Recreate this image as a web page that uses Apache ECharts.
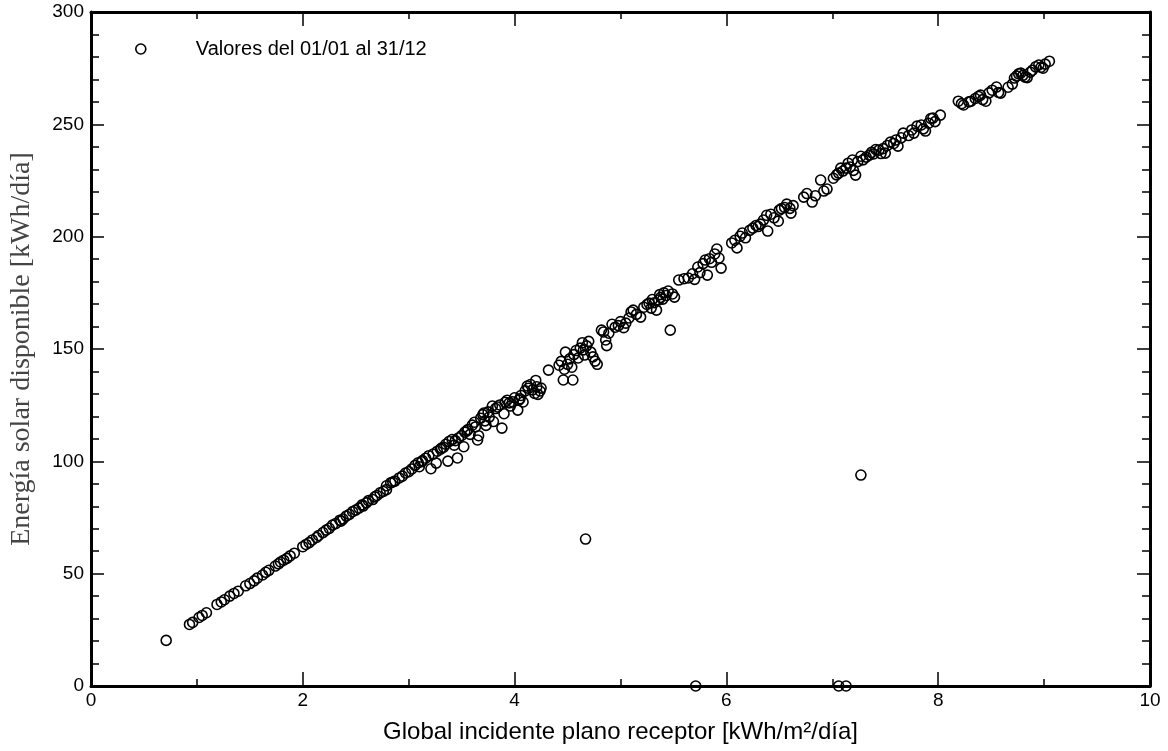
<!DOCTYPE html>
<html>
<head>
<meta charset="utf-8">
<script src="https://cdn.jsdelivr.net/npm/echarts@6/dist/echarts.min.js"></script>
<style>html,body{margin:0;padding:0;background:#fff;}#c{width:1168px;height:751px;}</style>
</head>
<body>
<div id="c"></div>
<script>
// Tick values
const xTicks = [0, 2, 4, 6, 8, 10];
const yTicks = [0, 50, 100, 150, 200, 250, 300];
const seriesName = 'Valores del 01/01 al 31/12';
const xAxisTitle = 'Global incidente plano receptor [kWh/m²/día]';
const yAxisTitle = 'Energía solar disponible [kWh/día]';

// Data: [global incidente, energía disponible]
const segLow = [[0.71,20.3],[0.93,27.4],[0.96,28.3],[1.02,30.5],[1.05,31.4],[1.09,32.6],[1.19,36.3],[1.23,37.4],[1.26,38.4],[1.31,40],[1.35,41.2],[1.39,42.2],[1.46,44.6],[1.5,45.6],[1.54,46.8],[1.57,48],[1.62,49.4],[1.65,50.6],[1.68,51.5],[1.74,53.4],[1.77,54.4],[1.79,55.2],[1.82,56],[1.85,56.8],[1.88,57.9],[1.92,59.1]];
const segTwo = [[2.0,62],[2.03,63],[2.06,63.8],[2.09,65],[2.13,66.1],[2.15,67],[2.19,68.3],[2.22,69.4],[2.25,70.2],[2.28,71.6],[2.31,72.3],[2.35,73.8],[2.36,73.4],[2.38,74.3],[2.41,75.6],[2.44,76.4],[2.47,77.6],[2.5,78.3],[2.53,79.2],[2.56,80.6],[2.57,80.1],[2.6,81.5],[2.62,82.5],[2.66,83],[2.68,84.2],[2.7,84.8],[2.73,86],[2.76,86.6],[2.79,87.4],[2.79,89.1],[2.83,90.4],[2.85,90.8],[2.87,91.2],[2.91,92.6],[2.94,93.4],[2.97,94.8],[3.0,95.4]];
const segThree = [[3.03,96.6],[3.06,98.2],[3.09,99.4],[3.1,97.6],[3.12,99.8],[3.13,100.3],[3.16,101.4],[3.19,102.5],[3.21,96.7],[3.23,103.2],[3.26,99.2],[3.27,104.5],[3.3,105.4],[3.31,105.9],[3.33,106.3],[3.35,107.6],[3.37,100.1],[3.38,108.8],[3.41,109.7],[3.43,107.2],[3.44,109.2],[3.46,101.5],[3.47,110.4],[3.5,111.5],[3.52,106.5],[3.53,113],[3.55,113.6],[3.56,114.2],[3.58,112],[3.6,116.1],[3.62,117.4],[3.63,115.3],[3.65,109.5],[3.66,111.4],[3.68,119.2],[3.7,120.8],[3.71,121.5],[3.72,118],[3.73,116],[3.75,122],[3.76,119.7],[3.79,124.6],[3.8,117.7],[3.82,123.5],[3.84,124.2],[3.86,125.1],[3.88,114.8],[3.9,121.2],[3.91,126.3],[3.93,127.2],[3.95,126],[3.96,124.6],[3.98,126.5],[4.0,128.3],[4.03,122.8],[4.04,127.2],[4.05,127.8],[4.06,129.3],[4.08,126.4],[4.1,131.4],[4.12,133.5],[4.13,132.5],[4.15,134.2],[4.17,131.8],[4.19,130.2],[4.2,136],[4.21,133.2],[4.22,129.8],[4.24,131.3],[4.25,132.6]];
const segFour = [[4.32,140.6],[4.42,142.8],[4.44,144.5],[4.46,136.2],[4.47,141],[4.48,148.6],[4.5,143.2],[4.52,145.6],[4.54,141.9],[4.55,136.2],[4.56,147.5],[4.58,149.3],[4.6,146],[4.62,150.4],[4.64,152.8],[4.65,149.6],[4.66,147.3],[4.68,151.4],[4.7,153.4],[4.72,148.6],[4.74,146.5],[4.76,144.6],[4.78,143.2],[4.82,158.4],[4.84,157.6],[4.86,154],[4.87,151.5],[4.89,157],[4.92,161],[4.95,159.7],[4.98,160.4],[5.0,162.2],[5.03,159.5],[5.05,161.5],[5.08,163.8],[5.1,166.5],[5.12,167.3],[5.15,165.4],[5.19,164.2],[5.22,168.6],[5.25,169.8],[5.27,170.4],[5.29,168.2],[5.3,172],[5.32,170.6],[5.34,167.3],[5.36,171.8],[5.37,174.2],[5.38,173],[5.4,172.2],[5.41,175],[5.43,173.8],[5.45,175.8],[5.47,158.4],[5.49,174.5],[5.51,173.1]];
const segFive = [[5.55,180.7],[5.6,181.3],[5.64,181.6],[5.68,183.5],[5.7,181],[5.73,186.5],[5.75,184],[5.78,188],[5.8,189.6],[5.82,182.9],[5.84,190.2],[5.86,188.6],[5.89,192.3],[5.91,194.5],[5.93,190.5],[5.95,186],[6.05,197.2],[6.08,198.4],[6.1,195],[6.13,200.2],[6.15,201.6],[6.18,199.5],[6.22,202.8],[6.25,203.8],[6.28,205],[6.3,204.5],[6.32,205.6],[6.35,207.4],[6.38,209.5],[6.39,202.5],[6.42,210],[6.45,208.4],[6.49,206.9],[6.5,211.8],[6.52,212.5],[6.55,213],[6.57,214.5],[6.6,212.6],[6.61,210.5],[6.63,213.8]];
const segSix = [[6.73,217.6],[6.76,219.2],[6.81,215.4],[6.84,218.2],[6.89,225.2],[6.92,220.3],[6.95,221.2],[7.01,226],[7.04,227.5],[7.06,228.3],[7.08,230.5],[7.1,229.2],[7.13,230.5],[7.15,232.7],[7.17,231],[7.19,234.1],[7.2,229.5],[7.22,227.4],[7.24,233.4],[7.27,235.8],[7.29,234.2],[7.32,235.4],[7.35,236.3],[7.37,237.5],[7.39,236.8],[7.41,238.8],[7.44,238.5],[7.46,237],[7.48,239.2],[7.5,237.2],[7.52,240.6],[7.55,242.1],[7.58,241.5],[7.6,243],[7.62,240.3],[7.65,244],[7.67,246.1],[7.72,245],[7.75,247.5],[7.77,246.1],[7.8,249.2],[7.84,249.7],[7.86,248],[7.88,247],[7.91,250.5],[7.93,252.6],[7.95,252.8],[7.97,251.2],[8.02,254.1]];
const segHigh = [[8.19,260.3],[8.22,259.2],[8.24,258.6],[8.29,260],[8.31,260.3],[8.35,261.5],[8.38,262.4],[8.4,263],[8.42,261],[8.45,260.3],[8.48,264],[8.51,265.2],[8.55,266.6],[8.57,264.2],[8.59,263.9],[8.66,266.5],[8.7,267.9],[8.72,270.6],[8.74,271.5],[8.76,272.5],[8.78,272.8],[8.8,271.8],[8.82,271],[8.84,270.8],[8.87,273.2],[8.89,274.1],[8.92,275.6],[8.95,276.4],[8.97,275.4],[8.99,275],[9.01,276.8],[9.05,278.1]];
const outliers = [[4.67,65.4],[7.27,93.9],[5.71,0],[7.06,0],[7.13,0]];

const allPoints = [].concat(segLow, segTwo, segThree, segFour, segFive, segSix, segHigh, outliers);

const sans = '"Liberation Sans", Arial, sans-serif';
const serif = '"Liberation Serif", "Times New Roman", serif';

function baseAxis(extra) {
  return Object.assign({
    axisLine: { show: true, onZero: false, lineStyle: { color: '#000', width: 3 } },
    splitLine: { show: false },
    minorSplitLine: { show: false }
  }, extra);
}

const chart = echarts.init(document.getElementById('c'), null, { renderer: 'canvas' });
chart.setOption({
  backgroundColor: '#fff',
  animation: false,
  grid: { left: 91, right: 18, top: 12, bottom: 65, containLabel: false },
  legend: {
    left: 130, top: 34,
    icon: 'circle', itemWidth: 10, itemHeight: 10,
    itemStyle: { color: 'rgba(0,0,0,0)', borderColor: '#000', borderWidth: 1.6 },
    textStyle: { fontFamily: sans, fontSize: 20, color: '#000', padding: [0, 0, 0, 45] },
    data: [seriesName]
  },
  xAxis: [
    baseAxis({
      type: 'value', min: xTicks[0], max: xTicks[xTicks.length - 1], interval: 2,
      position: 'bottom',
      name: xAxisTitle, nameLocation: 'middle', nameGap: 34,
      nameTextStyle: { fontFamily: sans, fontSize: 24, color: '#000' },
      axisTick: { show: true, inside: true, length: 14, lineStyle: { color: '#000', width: 1.5 } },
      minorTick: { show: true, splitNumber: 2, length: 7, lineStyle: { color: '#000', width: 1.5 } },
      axisLabel: { show: true, margin: 5, fontFamily: sans, fontSize: 19, color: '#000' }
    }),
    baseAxis({
      type: 'value', min: xTicks[0], max: xTicks[xTicks.length - 1], interval: 2,
      position: 'top',
      axisTick: { show: true, inside: true, length: 14, lineStyle: { color: '#000', width: 1.5 } },
      minorTick: { show: true, splitNumber: 2, length: 7, lineStyle: { color: '#000', width: 1.5 } },
      axisLabel: { show: false }
    })
  ],
  yAxis: [
    baseAxis({
      type: 'value', min: yTicks[0], max: yTicks[yTicks.length - 1], interval: 50,
      position: 'left',
      name: yAxisTitle, nameLocation: 'middle', nameGap: 55, nameRotate: 90,
      nameTextStyle: { fontFamily: serif, fontSize: 28, color: '#444' },
      axisTick: { show: true, inside: true, length: 13, lineStyle: { color: '#000', width: 1.5 } },
      minorTick: { show: true, splitNumber: 5, length: 8, lineStyle: { color: '#000', width: 1.5 } },
      axisLabel: { show: true, margin: 7, fontFamily: sans, fontSize: 19, color: '#000' }
    }),
    baseAxis({
      type: 'value', min: yTicks[0], max: yTicks[yTicks.length - 1], interval: 50,
      position: 'right',
      axisTick: { show: true, inside: true, length: 13, lineStyle: { color: '#000', width: 1.5 } },
      minorTick: { show: true, splitNumber: 5, length: 8, lineStyle: { color: '#000', width: 1.5 } },
      axisLabel: { show: false }
    })
  ],
  series: [{
    name: seriesName,
    type: 'scatter',
    xAxisIndex: 0, yAxisIndex: 0,
    clip: false,
    symbol: 'circle',
    symbolSize: 10,
    itemStyle: { color: 'rgba(0,0,0,0)', borderColor: '#000', borderWidth: 1.6, opacity: 1 },
    emphasis: { disabled: true },
    data: allPoints
  }]
});
</script>
</body>
</html>
